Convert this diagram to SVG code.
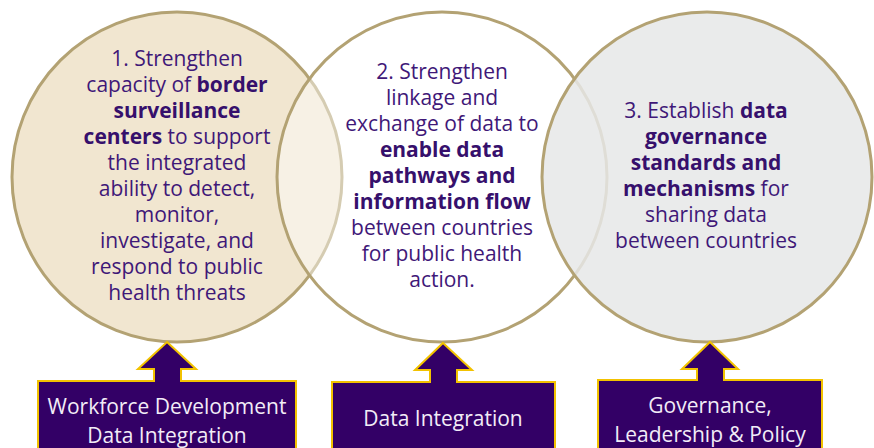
<svg xmlns="http://www.w3.org/2000/svg" width="874" height="448" viewBox="0 0 874 448">
<style>
.c{stroke:#b3a273;stroke-width:3}
.t{font-family:"Open Sans","Noto Sans",sans-serif;font-size:21px;fill:#3f1878;text-anchor:middle}
.t tspan.b{font-weight:bold;fill:#36106c}
.w{font-family:"Open Sans","Noto Sans",sans-serif;font-size:21px;fill:#f2ecf7;text-anchor:middle}
.a{fill:#330066;stroke:#f2c200;stroke-width:2;stroke-linejoin:miter}
</style>
<rect width="874" height="448" fill="#ffffff"/>
<g id="circle1">
<circle class="c" cx="177" cy="177" r="165" fill="#f1e6d0"/>
</g>
<g id="circle2">
<circle class="c" cx="442" cy="177" r="165" fill="#ffffff" fill-opacity="0.45"/>
</g>
<g id="circle3">
<circle class="c" cx="707" cy="177" r="165" fill="#e6e8e7" fill-opacity="0.85"/>
</g>
<g id="text1">
<text class="t" x="177" y="66">1. Strengthen</text>
<text class="t" x="177" y="92">capacity of <tspan class="b">border</tspan></text>
<text class="t" x="177" y="118"><tspan class="b">surveillance</tspan></text>
<text class="t" x="177" y="144"><tspan class="b">centers</tspan> to support</text>
<text class="t" x="177" y="170">the integrated</text>
<text class="t" x="177" y="196">ability to detect,</text>
<text class="t" x="177" y="222">monitor,</text>
<text class="t" x="177" y="248">investigate, and</text>
<text class="t" x="177" y="274">respond to public</text>
<text class="t" x="177" y="300">health threats</text>
</g>
<g id="text2">
<text class="t" x="442" y="79">2. Strengthen</text>
<text class="t" x="442" y="105">linkage and</text>
<text class="t" x="442" y="131">exchange of data to</text>
<text class="t" x="442" y="157"><tspan class="b">enable data</tspan></text>
<text class="t" x="442" y="183"><tspan class="b">pathways and</tspan></text>
<text class="t" x="442" y="209"><tspan class="b">information flow</tspan></text>
<text class="t" x="442" y="235">between countries</text>
<text class="t" x="442" y="261">for public health</text>
<text class="t" x="442" y="287">action.</text>
</g>
<g id="text3">
<text class="t" x="706" y="118">3. Establish <tspan class="b">data</tspan></text>
<text class="t" x="706" y="144"><tspan class="b">governance</tspan></text>
<text class="t" x="706" y="170"><tspan class="b">standards and</tspan></text>
<text class="t" x="706" y="196"><tspan class="b">mechanisms</tspan> for</text>
<text class="t" x="706" y="222">sharing data</text>
<text class="t" x="706" y="248">between countries</text>
</g>
<g id="connectors">
<path class="a" d="M167,342 L196,369 L181,369 L181,381 L296,381 L296,449 L38,449 L38,381 L154,381 L154,369 L138,369 Z"/>
<path class="a" d="M443,343 L472,370 L457,370 L457,382 L555,382 L555,449 L332,449 L332,382 L430,382 L430,370 L415,370 Z"/>
<path class="a" d="M710,342 L738,369 L724,369 L724,380 L822,380 L822,449 L598,449 L598,380 L697,380 L697,369 L682,369 Z"/>
</g>
<g id="box1">
<text class="w" x="167" y="414">Workforce Development</text>
<text class="w" x="167" y="443">Data Integration</text>
</g>
<g id="box2">
<text class="w" x="443" y="426">Data Integration</text>
</g>
<g id="box3">
<text class="w" x="710" y="413">Governance,</text>
<text class="w" x="710" y="442">Leadership &amp; Policy</text>
</g>
</svg>
